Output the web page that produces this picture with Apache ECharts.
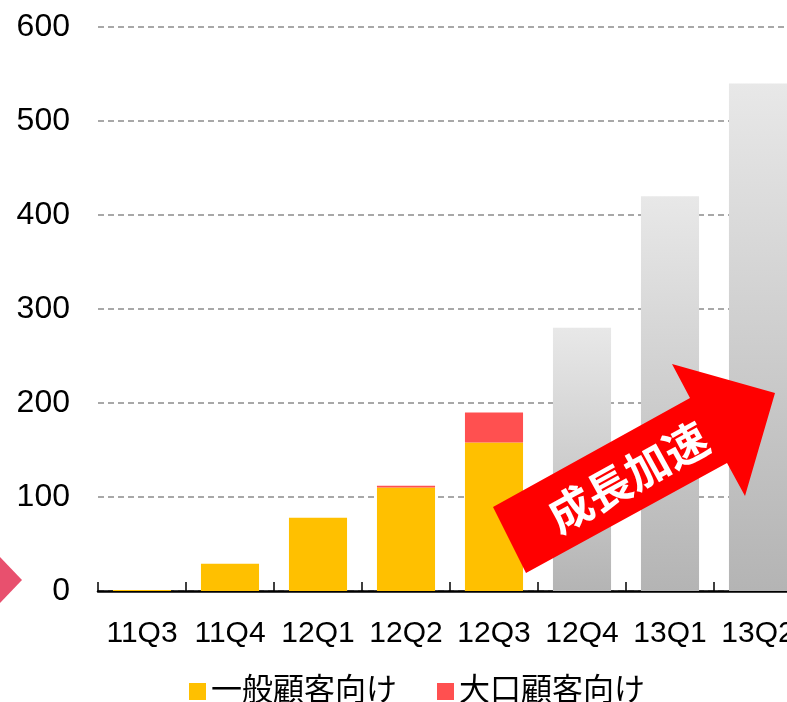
<!DOCTYPE html>
<html><head><meta charset="utf-8">
<script src="https://cdn.jsdelivr.net/npm/echarts@6/dist/echarts.min.js"></script>
<style>html,body{margin:0;padding:0;background:#fff}#c{width:787px;height:702px}</style>
</head><body><div id="c"></div>
<script>
const categories = ['11Q3','11Q4','12Q1','12Q2','12Q3','12Q4','13Q1','13Q2'];
const generalValues = [1, 29, 78, 110, 158, null, null, null];
const largeValues = [null, null, null, 2, 32, null, null, null];
const forecastValues = [null, null, null, null, null, 280, 420, 540];
const yTicks = [0, 100, 200, 300, 400, 500, 600];
const seriesNames = ['一般顧客向け', '大口顧客向け'];

const chart = echarts.init(document.getElementById('c'));
const font = '"Liberation Sans", Arial, "Noto Sans CJK JP", sans-serif';
chart.setOption({
  animation: false,
  textStyle: { fontFamily: font },
  grid: { left: 98, top: 27, width: 704, height: 564, outerBoundsMode: 'none', containLabel: false },
  legend: {
    data: seriesNames,
    left: 184, top: 671,
    itemWidth: 17, itemHeight: 17, itemGap: 40,
    icon: 'rect',
    textStyle: { fontSize: 31, color: '#000', fontFamily: font }
  },
  xAxis: {
    type: 'category', data: categories,
    axisLine: { show: true, onZero: false, lineStyle: { color: '#000', width: 2.5 } },
    axisTick: { show: true, inside: true, length: 9, interval: 0, alignWithLabel: false,
      lineStyle: { color: '#000', width: 1.5 } },
    axisLabel: { fontSize: 30, color: '#000', margin: 28, interval: 0, hideOverlap: false }
  },
  yAxis: {
    type: 'value', min: yTicks[0], max: yTicks[yTicks.length - 1], interval: 100,
    axisLine: { show: false }, axisTick: { show: false },
    axisLabel: { fontSize: 32, color: '#000', margin: 28 },
    splitLine: { lineStyle: { color: '#8c8c8c', width: 1.5, type: [6, 4] } }
  },
  series: [
    { name: seriesNames[0], type: 'bar', stack: 's', data: generalValues, barWidth: '66%',
      itemStyle: { color: '#ffc000' } },
    { name: seriesNames[1], type: 'bar', stack: 's', data: largeValues,
      itemStyle: { color: '#ff5050' } },
    { name: 'forecast', type: 'bar', stack: 's', data: forecastValues,
      itemStyle: { color: new echarts.graphic.LinearGradient(0, 0, 0, 1, [
        { offset: 0, color: '#e8e8e8' }, { offset: 1, color: '#b4b4b4' }]) } }
  ],
  graphic: [
    { type: 'polygon', z: 100,
      shape: { points: [[526,573],[493,507],[690,398],[672,364],[775,393],[745,496],[727,463]] },
      style: { fill: '#ff0000' } },
    { type: 'text', z: 101, x: 628, y: 477, rotation: 29 * Math.PI / 180,
      style: { text: '成長加速', fill: '#fff', font: 'bold 44px "Noto Sans CJK JP", sans-serif',
        align: 'center', verticalAlign: 'middle' } },
    { type: 'polygon', z: 100,
      shape: { points: [[0,557],[22,580],[0,603]] },
      style: { fill: '#e8506e' } }
  ]
});
</script></body></html>
